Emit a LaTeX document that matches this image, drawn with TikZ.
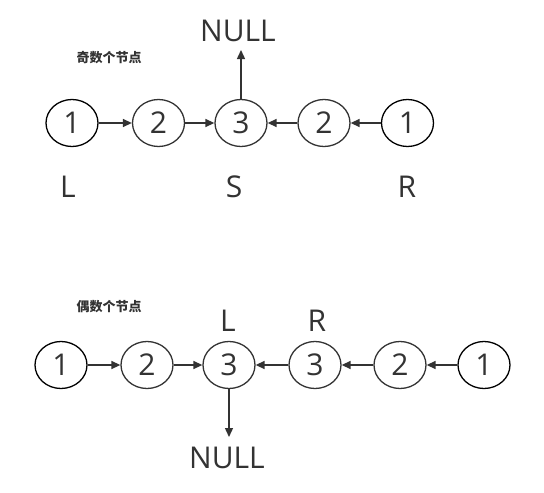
\documentclass[tikz,border=0pt]{standalone}
\usepackage{fontspec}
\setmainfont{Open Sans}
\newfontfamily\cjk{Noto Sans CJK SC}
\usetikzlibrary{arrows.meta,shapes.geometric}
\definecolor{ink}{HTML}{333333}
\tikzset{
  nodeA/.style={draw=ink, line width=1.3pt, ellipse, minimum width=52pt, minimum height=47pt, inner sep=0pt, font=\fontsize{30}{30}\selectfont, text=ink},
  nodeB/.style={nodeA, draw=black},
  lbl/.style={font=\fontsize{30}{30}\selectfont, text=ink, inner sep=0pt},
  captxt/.style={font=\cjk\bfseries\fontsize{13}{13}\selectfont, text=ink, inner sep=0pt},
  arr/.style={draw=ink, line width=1.4pt, -{Triangle[length=9pt,width=8pt]}}
}
\begin{document}
\begin{tikzpicture}[x=1pt,y=-1pt]
\useasboundingbox[fill=white] (0,0) rectangle (544,493);
% odd
\node[captxt] (c1) at (109,58) {奇数个节点};
\node[nodeB] (a1) at (72,123) {1};
\node[nodeA] (a2) at (158.5,123) {2};
\node[nodeA] (a3) at (241,123) {3};
\node[nodeA] (a4) at (324,123) {2};
\node[nodeB] (a5) at (407.5,123) {1};
\node[lbl] (n1) at (238,31) {NULL};
\coordinate (t1) at (241,50);
\node[lbl] (l1) at (68,187) {L};
\node[lbl] (s1) at (234,187) {S};
\node[lbl] (r1) at (407,187) {R};
\draw[arr] (a1) -- (a2);
\draw[arr] (a2) -- (a3);
\draw[arr] (a5) -- (a4);
\draw[arr] (a4) -- (a3);
\draw[arr] (a3) -- (t1);
% even
\node[captxt] (c2) at (109,307) {偶数个节点};
\node[nodeB] (b1) at (61,365) {1};
\node[nodeA] (b2) at (147,365) {2};
\node[nodeA] (b3) at (229,365) {3};
\node[nodeA] (b4) at (315,365) {3};
\node[nodeA] (b5) at (400,365) {2};
\node[nodeB] (b6) at (484,365) {1};
\node[lbl] (l2) at (228,321) {L};
\node[lbl] (r2) at (317,321) {R};
\node[lbl] (n2) at (227,458) {NULL};
\coordinate (t2) at (229,437);
\draw[arr] (b1) -- (b2);
\draw[arr] (b2) -- (b3);
\draw[arr] (b6) -- (b5);
\draw[arr] (b5) -- (b4);
\draw[arr] (b4) -- (b3);
\draw[arr] (b3) -- (t2);
\end{tikzpicture}
\end{document}
